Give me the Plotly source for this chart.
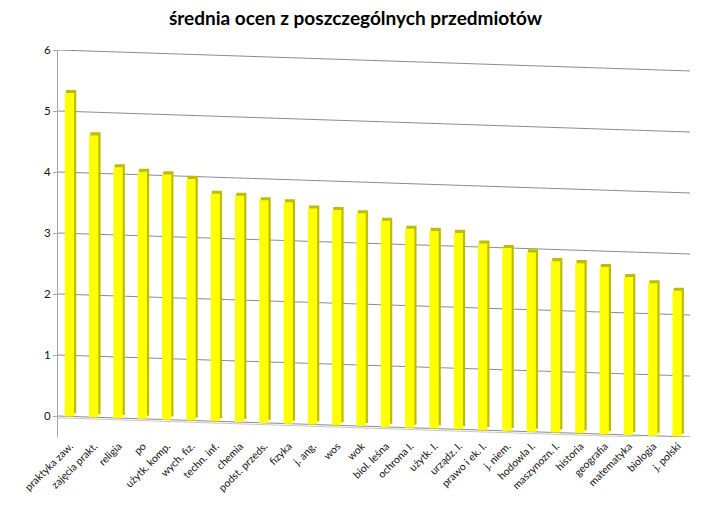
import plotly.graph_objects as go

# ---- data ----
subjects = [
    "praktyka zaw.", "zajęcia prakt.", "religia", "po", "użytk. komp.",
    "wych. fiz.", "techn. inf.", "chemia", "podst. przeds.", "fizyka",
    "j. ang.", "wos", "wok", "biol. leśna", "ochrona l.", "użytk. l.",
    "urządz. l.", "prawo i ek. l.", "j. niem.", "hodowla l.", "maszynozn. l.",
    "historia", "geografia", "matematyka", "biologia", "j. polski",
]
averages = [
    5.30, 4.62, 4.11, 4.05, 4.02, 3.96, 3.73, 3.71, 3.65, 3.63,
    3.54, 3.53, 3.49, 3.38, 3.26, 3.24, 3.22, 3.06, 3.00, 2.94,
    2.81, 2.79, 2.74, 2.59, 2.50, 2.39,
]
y_ticks = [0, 1, 2, 3, 4, 5, 6]
title_text = "średnia ocen z poszczególnych przedmiotów"

# ---- pseudo-3D styling (oblique wall, as in the reference) ----
FONT = "Lato, 'Open Sans', sans-serif"
n = len(subjects)
skew = 0.344          # how far the floor drops from left to right (value units)
depth = 0.05          # vertical shift of the bar side face
bases = [-skew * (i + 0.5) / n for i in range(n)]
side_bases = [b + depth for b in bases]

fig = go.Figure()

# side / top face (darker), drawn behind
fig.add_trace(go.Bar(
    x=subjects, y=averages, base=side_bases,
    width=0.42, offset=-0.17,
    marker=dict(color="#BDBD00", line=dict(width=0)),
    hoverinfo="skip", showlegend=False,
))
# front face
fig.add_trace(go.Bar(
    x=subjects, y=averages, base=bases,
    width=0.38, offset=-0.22,
    marker=dict(color="#FFFF00", line=dict(width=0)),
    showlegend=False,
))

# sloped gridlines on the back wall
shapes = []
for k in y_ticks:
    shapes.append(dict(
        type="line", xref="paper", yref="y",
        x0=0, y0=k, x1=1, y1=k - skew,
        line=dict(color="#8C8C8C", width=1), layer="below",
    ))
# floor front edge
shapes.append(dict(
    type="line", xref="paper", yref="y",
    x0=0, y0=-0.03, x1=1, y1=-0.03 - skew,
    line=dict(color="#C8C8C8", width=1), layer="below",
))

fig.update_layout(
    width=711, height=507,
    margin=dict(l=58, r=21, t=50, b=70),
    paper_bgcolor="white", plot_bgcolor="white",
    barmode="overlay",
    shapes=shapes,
    title=dict(
        text=title_text, x=0.5, xanchor="center",
        y=1 - 18 / 507, yanchor="middle",
        font=dict(family=FONT, size=19, color="#000000", weight="bold"),
    ),
    font=dict(family=FONT, color="#000000"),
)
fig.update_xaxes(
    type="category", range=[-0.5, n - 0.5], automargin=False,
    tickangle=-45, tickfont=dict(size=10.5, family=FONT, color="#111111"),
    showgrid=False, showline=False, zeroline=False, ticks="",
)
fig.update_yaxes(
    range=[-skew, 6], tickvals=y_ticks, automargin=False,
    tickfont=dict(size=11.5, family=FONT, color="#111111"),
    showgrid=False, zeroline=False,
    showline=True, linecolor="#A6A6A6", linewidth=1,
    ticks="outside", ticklen=4, tickcolor="#A6A6A6",
)

fig.write_html(
    "out.html",
    config={"displayModeBar": False},
    post_script="document.body.style.margin='0';document.body.style.padding='0';",
)
